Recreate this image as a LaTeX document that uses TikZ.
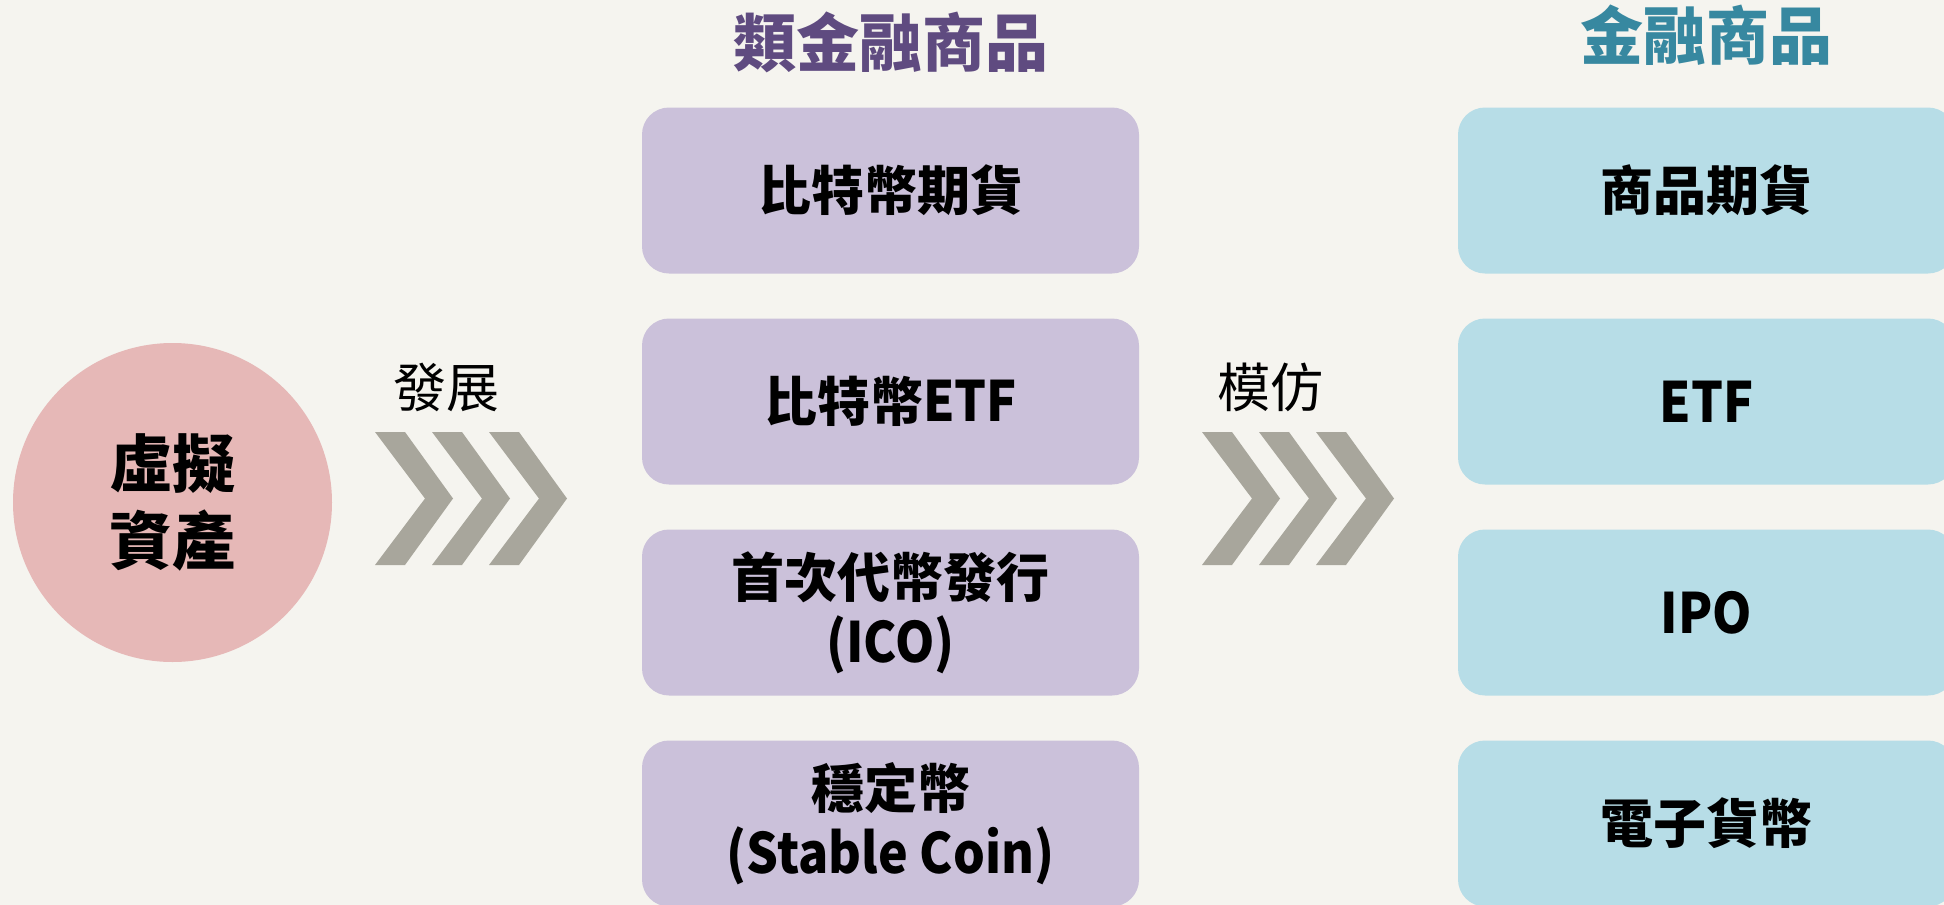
\documentclass[tikz,border=0pt]{standalone}
\usepackage{fontspec}
\setmainfont{Noto Sans CJK TC}
\newfontfamily\latinfont[Scale=1.05,FakeStretch=0.9]{Noto Sans CJK TC}
\definecolor{bgcol}{RGB}{245,244,239}
\definecolor{boxpurple}{RGB}{203,193,218}
\definecolor{boxblue}{RGB}{183,221,231}
\definecolor{circpink}{RGB}{230,184,183}
\definecolor{chevgray}{RGB}{168,166,156}
\definecolor{titlepurple}{RGB}{95,75,128}
\definecolor{titleteal}{RGB}{55,136,160}
\begin{document}
\begin{tikzpicture}[x=1pt,y=-1pt,
  itembox/.style={rounded corners=27pt, minimum width=497pt, minimum height=166pt,
    inner sep=0pt, align=center, text=black,
    font=\fontsize{53}{65}\selectfont\bfseries},
  pbox/.style={itembox, fill=boxpurple},
  bbox/.style={itembox, fill=boxblue},
  title/.style={anchor=base, inner sep=0pt, font=\fontsize{63}{70}\selectfont\bfseries},
  verb/.style={anchor=base, inner sep=0pt, text=black, font=\fontsize{53}{60}\selectfont},
  chev/.style={fill=chevgray}
]
\useasboundingbox (0,0) rectangle (1944,905);
\fill[bgcol] (0,0) rectangle (1944,905);
\clip (0,0) rectangle (1944,905);

% titles
\node[title, text=titlepurple] (t1) at (890.5,66) {類金融商品};
\node[title, text=titleteal] (t2) at (1706.5,59) {金融商品};

% circle
\node[circle, fill=circpink, minimum size=319pt, inner sep=0pt, align=center,
  font=\fontsize{63}{77}\selectfont\bfseries] (va) at (172.5,502.5) {虛擬\\資產};

% purple boxes
\node[pbox] (p1) at (890.5,190.5) {比特幣期貨};
\node[pbox] (p2) at (890.5,401.5) {比特幣{\latinfont ETF}};
\node[pbox] (p3) at (890.5,612.5) {首次代幣發行\\{\latinfont (ICO)}};
\node[pbox] (p4) at (890.5,823.5) {穩定幣\\{\latinfont (Stable Coin)}};

% blue boxes
\node[bbox] (b1) at (1706.5,190.5) {商品期貨};
\node[bbox] (b2) at (1706.5,401.5) {{\latinfont ETF}};
\node[bbox] (b3) at (1706.5,612.5) {{\latinfont IPO}};
\node[bbox] (b4) at (1706.5,823.5) {電子貨幣};

% labels
\node[verb] (dev) at (446,407) {發展};
\node[verb] (imit) at (1270,407) {模仿};

% chevrons
\foreach \o in {375,432,489,1202,1259,1316} {
  \fill[chev] (\o,432) -- (\o+30,432) -- (\o+78,498.5) -- (\o+30,565)
    -- (\o,565) -- (\o+50,498.5) -- cycle;
}
\end{tikzpicture}
\end{document}
